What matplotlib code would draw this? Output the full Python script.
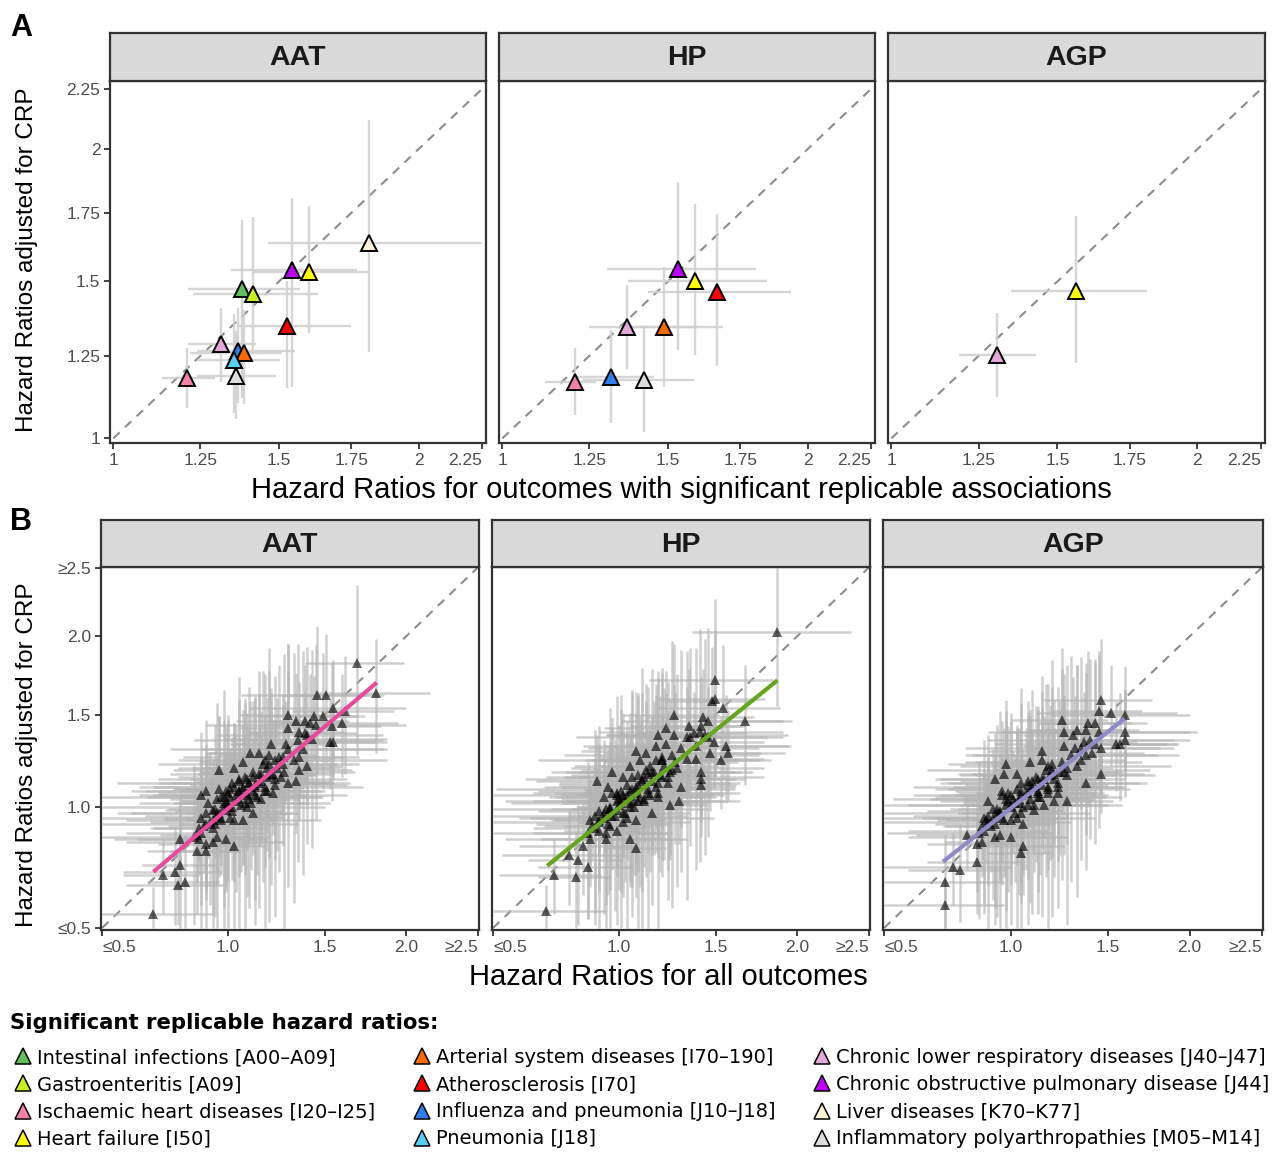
import matplotlib

matplotlib.use("Agg")
import matplotlib.pyplot as plt
from matplotlib.lines import Line2D
import numpy as np

plt.rcParams["font.family"] = ["Liberation Sans", "DejaVu Sans"]

W, H = 1272, 1153

proteins = ["AAT", "HP", "AGP"]

# legend entries for significant replicable associations
outcome_labels = [
    "Intestinal infections [A00–A09]",
    "Gastroenteritis [A09]",
    "Ischaemic heart diseases [I20–I25]",
    "Heart failure [I50]",
    "Arterial system diseases [I70–190]",
    "Atherosclerosis [I70]",
    "Influenza and pneumonia [J10–J18]",
    "Pneumonia [J18]",
    "Chronic lower respiratory diseases [J40–J47]",
    "Chronic obstructive pulmonary disease [J44]",
    "Liver diseases [K70–K77]",
    "Inflammatory polyarthropathies [M05–M14]",
]
outcome_colors = [
    "#5DC15B", "#C8F01E", "#F782A8", "#FFFF00", "#FF6A00", "#FF0000",
    "#2F7FEF", "#55D0F2", "#E2A8D6", "#BF00FF", "#FFF3D6", "#DCDCDC",
]

# panel A: significant replicable hazard ratios (outcome index, HR, CI, adjusted HR, CI)
aat_sig_outcome = [6, 0, 1, 2, 3, 4, 5, 7, 8, 9, 10, 11]
aat_sig_hr = [1.368, 1.379, 1.415, 1.211, 1.602, 1.387, 1.528, 1.354, 1.314, 1.543, 1.815, 1.360]
aat_sig_hr_lo = [1.239, 1.214, 1.227, 1.136, 1.411, 1.219, 1.363, 1.239, 1.214, 1.345, 1.465, 1.239]
aat_sig_hr_hi = [1.554, 1.571, 1.634, 1.295, 1.818, 1.509, 1.748, 1.503, 1.425, 1.770, 2.250, 1.490]
aat_sig_adj = [1.266, 1.474, 1.457, 1.181, 1.535, 1.258, 1.348, 1.238, 1.287, 1.541, 1.637, 1.186]
aat_sig_adj_lo = [1.103, 1.118, 1.258, 1.088, 1.323, 1.100, 1.148, 1.073, 1.168, 1.153, 1.263, 1.055]
aat_sig_adj_hi = [1.408, 1.724, 1.733, 1.274, 1.778, 1.400, 1.503, 1.389, 1.408, 1.809, 2.119, 1.330]

hp_sig_outcome = [2, 3, 4, 5, 6, 8, 9, 11]
hp_sig_hr = [1.206, 1.591, 1.487, 1.666, 1.316, 1.366, 1.535, 1.421]
hp_sig_hr_lo = [1.119, 1.369, 1.360, 1.433, 1.206, 1.249, 1.305, 1.231]
hp_sig_hr_hi = [1.271, 1.847, 1.689, 1.938, 1.455, 1.600, 1.807, 1.588]
hp_sig_adj = [1.168, 1.501, 1.343, 1.465, 1.182, 1.344, 1.545, 1.174]
hp_sig_adj_lo = [1.068, 1.252, 1.153, 1.218, 1.043, 1.207, 1.268, 1.019]
hp_sig_adj_hi = [1.274, 1.786, 1.551, 1.748, 1.333, 1.489, 1.868, 1.346]

agp_sig_outcome = [3, 8]
agp_sig_hr = [1.563, 1.306]
agp_sig_hr_lo = [1.350, 1.193]
agp_sig_hr_hi = [1.811, 1.429]
agp_sig_adj = [1.466, 1.254]
agp_sig_adj_lo = [1.226, 1.122]
agp_sig_adj_hi = [1.740, 1.391]

# panel B: all outcomes (HR, adjusted HR, CI half widths)
aat_all_hr = [
    1.69, 1.81, 1.46, 1.51, 1.55, 1.62, 1.60, 1.54, 1.55, 1.53, 1.30, 1.34, 1.39, 1.44, 1.49,
    1.36, 1.39, 1.42, 1.30, 1.21, 1.29, 1.105, 1.15, 1.18, 1.23, 1.27, 1.36, 1.40, 1.36, 1.30,
    1.34, 1.07, 1.03, 0.96, 0.90, 0.88, 0.91, 0.95, 0.97, 0.99, 1.02, 1.05, 1.09, 1.12, 1.16,
    1.19, 1.22, 1.26, 1.12, 1.09, 1.05, 1.02, 0.99, 0.96, 0.93, 0.89, 0.87, 0.86, 0.87, 0.90,
    0.95, 0.99, 1.03, 1.07, 1.12, 1.19, 1.22, 1.16, 0.79, 0.86, 0.90, 0.72, 0.77, 0.79, 0.78,
    0.81, 0.68, 0.93, 1.05, 1.10, 0.97, 1.01, 1.09, 1.00, 1.04, 1.07, 0.98, 1.13, 0.94, 1.01,
]
aat_all_adj = [
    1.82, 1.63, 1.62, 1.62, 1.54, 1.52, 1.45, 1.43, 1.34, 1.34, 1.50, 1.46, 1.46, 1.49, 1.49,
    1.40, 1.39, 1.45, 1.42, 1.33, 1.33, 1.28, 1.28, 1.24, 1.24, 1.26, 1.26, 1.21, 1.19, 1.12,
    1.13, 1.23, 1.20, 1.19, 1.08, 1.06, 1.02, 1.04, 1.05, 1.08, 1.12, 1.13, 1.14, 1.15, 1.13,
    1.15, 1.17, 1.15, 1.08, 1.07, 1.04, 1.00, 0.985, 0.97, 0.94, 0.91, 0.90, 0.87, 0.85, 0.83,
    0.86, 0.85, 0.82, 0.94, 0.97, 1.08, 1.07, 1.04, 0.85, 0.80, 0.80, 0.70, 0.71, 0.74, 0.66,
    0.67, 0.55, 0.985, 1.08, 1.04, 0.94, 0.95, 1.00, 1.02, 1.06, 1.10, 1.00, 1.11, 0.92, 1.09,
]
aat_all_hr_err = [
    0.30, 0.35, 0.40, 0.25, 0.45, 0.30, 0.35, 0.30, 0.25, 0.35, 0.25, 0.30, 0.20, 0.30, 0.20,
    0.25, 0.30, 0.20, 0.25, 0.20, 0.25, 0.20, 0.25, 0.20, 0.30, 0.20, 0.25, 0.20, 0.30, 0.25,
    0.20, 0.20, 0.25, 0.20, 0.25, 0.20, 0.15, 0.20, 0.15, 0.20, 0.15, 0.20, 0.15, 0.20, 0.25,
    0.15, 0.20, 0.15, 0.20, 0.15, 0.10, 0.15, 0.10, 0.15, 0.20, 0.15, 0.20, 0.15, 0.25, 0.20,
    0.15, 0.20, 0.15, 0.15, 0.20, 0.20, 0.15, 0.20, 0.25, 0.20, 0.15, 0.15, 0.20, 0.15, 0.20,
    0.15, 0.25, 0.20, 0.15, 0.20, 0.15, 0.20, 0.15, 0.15, 0.20, 0.15, 0.20, 0.15, 0.15, 0.20,
]
aat_all_adj_err = [
    0.55, 0.35, 0.45, 0.40, 0.30, 0.35, 0.30, 0.40, 0.20, 0.25, 0.45, 0.30, 0.35, 0.25, 0.40,
    0.30, 0.25, 0.30, 0.35, 0.30, 0.25, 0.30, 0.35, 0.25, 0.20, 0.30, 0.25, 0.20, 0.25, 0.20,
    0.25, 0.30, 0.25, 0.30, 0.25, 0.20, 0.25, 0.20, 0.15, 0.20, 0.25, 0.20, 0.30, 0.20, 0.25,
    0.20, 0.30, 0.20, 0.15, 0.20, 0.15, 0.20, 0.15, 0.20, 0.15, 0.20, 0.15, 0.20, 0.15, 0.20,
    0.15, 0.20, 0.15, 0.20, 0.15, 0.20, 0.15, 0.20, 0.20, 0.25, 0.20, 0.15, 0.20, 0.25, 0.15,
    0.20, 0.10, 0.20, 0.15, 0.20, 0.20, 0.15, 0.20, 0.15, 0.20, 0.20, 0.15, 0.20, 0.15, 0.20,
]
# dense core of the AAT cloud
aat_core_hr = [
    0.92, 0.95, 0.98, 1.01, 1.04, 1.07, 1.10, 1.13, 1.16, 1.19,
    0.90, 0.94, 0.97, 1.00, 1.03, 1.06, 1.09, 1.12, 1.15, 1.18, 1.21, 1.24,
    0.88, 0.93, 0.99, 1.05, 1.11, 1.17, 1.23,
    0.96, 1.02, 1.08, 1.14, 1.20, 1.27,
]
aat_core_adj = [
    0.93, 0.96, 1.02, 1.05, 1.03, 1.09, 1.12, 1.10, 1.17, 1.20,
    0.97, 0.99, 0.95, 1.07, 1.10, 1.01, 1.06, 1.18, 1.12, 1.08, 1.16, 1.20,
    0.88, 0.90, 1.03, 1.14, 1.02, 1.22, 1.11,
    1.09, 0.98, 1.15, 1.05, 1.27, 1.22,
]
aat_core_hr_err = [
    0.25, 0.30, 0.20, 0.35, 0.25, 0.30, 0.40, 0.25, 0.30, 0.35,
    0.30, 0.20, 0.25, 0.30, 0.35, 0.20, 0.30, 0.25, 0.40, 0.30, 0.25, 0.35,
    0.30, 0.25, 0.20, 0.35, 0.30, 0.25, 0.40,
    0.20, 0.25, 0.30, 0.35, 0.25, 0.30,
]
aat_core_adj_err = [
    0.35, 0.30, 0.45, 0.25, 0.40, 0.35, 0.30, 0.50, 0.35, 0.40,
    0.30, 0.45, 0.25, 0.40, 0.35, 0.30, 0.45, 0.40, 0.30, 0.35, 0.50, 0.40,
    0.30, 0.35, 0.40, 0.45, 0.30, 0.55, 0.35,
    0.40, 0.30, 0.45, 0.35, 0.50, 0.40,
]
# rare outcomes with wide intervals
aat_wide_hr = [
    0.85, 0.90, 0.95, 1.00, 1.05, 1.10, 1.15, 1.20, 1.25, 1.30, 1.35, 1.40, 1.45,
    0.88, 0.98, 1.08, 1.18, 1.28, 1.38,
    0.93, 1.03, 1.13, 1.23, 1.33, 1.43,
]
aat_wide_adj = [
    0.86, 0.92, 0.97, 1.00, 1.08, 1.12, 1.17, 1.22, 1.26, 1.30, 1.35, 1.38, 1.44,
    0.95, 1.05, 1.02, 1.10, 1.18, 1.30,
    0.84, 0.94, 1.06, 1.14, 1.24, 1.36,
]
aat_wide_hr_err = [
    0.35, 0.45, 0.40, 0.50, 0.45, 0.55, 0.40, 0.50, 0.45, 0.55, 0.50, 0.45, 0.55,
    0.40, 0.50, 0.45, 0.55, 0.40, 0.50,
    0.35, 0.45, 0.50, 0.40, 0.55, 0.45,
]
aat_wide_adj_err = [
    0.35, 0.55, 0.60, 0.50, 0.65, 0.55, 0.60, 0.70, 0.55, 0.65, 0.60, 0.55, 0.50,
    0.45, 0.60, 0.55, 0.65, 0.70, 0.60,
    0.35, 0.45, 0.55, 0.60, 0.65, 0.55,
]
aat_fit_hr = [0.683, 1.812]
aat_fit_adj = [0.711, 1.696]

hp_all_hr = [
    1.87, 1.495, 1.495, 1.48, 1.54, 1.67, 1.43, 1.27, 1.23, 1.19, 1.27, 1.35, 1.34, 1.38, 1.42,
    1.46, 1.49, 1.56, 1.57, 1.53, 1.47, 1.39, 1.42, 1.42, 1.42, 1.31, 1.30, 1.25, 1.19, 1.23,
    1.18, 1.08, 1.13, 1.10, 1.15, 1.21, 1.26, 1.21, 1.18, 1.12, 1.05, 1.02, 0.97, 0.90, 0.93,
    0.99, 1.05, 1.08, 1.12, 1.05, 1.02, 0.99, 0.96, 0.93, 0.91, 0.87, 0.88, 0.91, 0.96, 0.99,
    1.05, 1.08, 0.87, 0.84, 0.82, 0.78, 0.86, 0.72, 0.81, 0.69, 1.02, 1.08, 1.16, 0.95, 1.02,
    1.00, 1.04, 1.09, 0.97, 1.14, 0.94, 1.07,
]
hp_all_adj = [
    2.03, 1.714, 1.596, 1.58, 1.54, 1.46, 1.485, 1.50, 1.42, 1.38, 1.38, 1.43, 1.37, 1.39, 1.43,
    1.37, 1.34, 1.32, 1.28, 1.24, 1.28, 1.25, 1.18, 1.14, 1.11, 1.10, 1.03, 1.01, 1.05, 1.33,
    1.32, 1.29, 1.28, 1.24, 1.21, 1.24, 1.19, 1.15, 1.10, 1.15, 1.21, 1.15, 1.18, 1.13, 1.05,
    1.07, 1.08, 1.07, 1.04, 1.00, 0.97, 0.985, 1.00, 0.97, 0.94, 0.94, 0.91, 0.89, 0.91, 0.89,
    0.85, 0.81, 0.85, 0.82, 0.76, 0.78, 0.73, 0.70, 0.69, 0.56, 0.93, 0.94, 0.97, 1.10, 1.04,
    1.01, 1.06, 1.11, 0.96, 1.17, 0.99, 1.03,
]
hp_all_hr_err = [
    0.50, 0.35, 0.30, 0.25, 0.35, 0.30, 0.30, 0.25, 0.30, 0.25, 0.25, 0.30, 0.20, 0.30, 0.25,
    0.35, 0.30, 0.40, 0.35, 0.30, 0.30, 0.25, 0.30, 0.25, 0.20, 0.30, 0.25, 0.20, 0.25, 0.20,
    0.25, 0.25, 0.20, 0.25, 0.20, 0.25, 0.20, 0.25, 0.20, 0.20, 0.25, 0.20, 0.20, 0.25, 0.20,
    0.15, 0.20, 0.15, 0.20, 0.15, 0.15, 0.10, 0.15, 0.15, 0.20, 0.15, 0.20, 0.15, 0.20, 0.15,
    0.20, 0.15, 0.20, 0.25, 0.20, 0.25, 0.20, 0.20, 0.15, 0.25, 0.20, 0.15, 0.20, 0.20, 0.15,
    0.15, 0.20, 0.15, 0.15, 0.20, 0.15, 0.20,
]
hp_all_adj_err = [
    0.48, 0.55, 0.45, 0.35, 0.40, 0.35, 0.30, 0.45, 0.35, 0.35, 0.30, 0.35, 0.30, 0.25, 0.30,
    0.30, 0.25, 0.30, 0.25, 0.25, 0.30, 0.20, 0.25, 0.20, 0.25, 0.20, 0.20, 0.25, 0.20, 0.30,
    0.30, 0.35, 0.30, 0.25, 0.25, 0.25, 0.20, 0.25, 0.20, 0.25, 0.30, 0.25, 0.30, 0.25, 0.20,
    0.20, 0.15, 0.20, 0.20, 0.15, 0.20, 0.15, 0.15, 0.20, 0.15, 0.20, 0.15, 0.20, 0.15, 0.20,
    0.20, 0.20, 0.20, 0.20, 0.25, 0.20, 0.20, 0.15, 0.20, 0.10, 0.15, 0.20, 0.15, 0.20, 0.15,
    0.15, 0.20, 0.20, 0.15, 0.20, 0.20, 0.15,
]
hp_core_hr = [
    0.93, 0.96, 0.99, 1.02, 1.05, 1.08, 1.11, 1.14, 1.17, 1.20,
    0.91, 0.95, 0.98, 1.01, 1.04, 1.07, 1.10, 1.13, 1.16, 1.19, 1.22, 1.25,
    0.89, 0.94, 1.00, 1.06, 1.12, 1.18, 1.24,
    0.97, 1.03, 1.09, 1.15, 1.21, 1.28,
]
hp_core_adj = [
    0.95, 0.99, 1.03, 1.06, 1.02, 1.10, 1.13, 1.09, 1.18, 1.16,
    0.98, 0.92, 0.96, 1.08, 1.11, 1.00, 1.05, 1.19, 1.13, 1.07, 1.21, 1.18,
    0.90, 0.88, 1.04, 1.15, 1.03, 1.24, 1.12,
    1.07, 0.97, 1.16, 1.06, 1.26, 1.23,
]
hp_core_hr_err = [
    0.30, 0.25, 0.35, 0.20, 0.30, 0.40, 0.25, 0.30, 0.35, 0.30,
    0.25, 0.30, 0.20, 0.35, 0.30, 0.25, 0.40, 0.30, 0.25, 0.35, 0.30, 0.40,
    0.25, 0.30, 0.25, 0.30, 0.35, 0.30, 0.35,
    0.25, 0.20, 0.30, 0.40, 0.30, 0.35,
]
hp_core_adj_err = [
    0.40, 0.35, 0.30, 0.45, 0.35, 0.40, 0.50, 0.30, 0.40, 0.45,
    0.35, 0.30, 0.40, 0.45, 0.35, 0.30, 0.40, 0.50, 0.35, 0.30, 0.45, 0.40,
    0.35, 0.30, 0.40, 0.50, 0.30, 0.45, 0.40,
    0.35, 0.30, 0.45, 0.35, 0.50, 0.40,
]
hp_wide_hr = [
    0.86, 0.91, 0.96, 1.01, 1.06, 1.11, 1.16, 1.21, 1.26, 1.31, 1.36, 1.41, 1.46,
    0.89, 0.99, 1.09, 1.19, 1.29, 1.39,
    0.94, 1.04, 1.14, 1.24, 1.34, 1.44,
]
hp_wide_adj = [
    0.88, 0.93, 0.99, 1.02, 1.09, 1.14, 1.18, 1.24, 1.27, 1.31, 1.37, 1.40, 1.46,
    0.96, 1.06, 1.03, 1.12, 1.20, 1.32,
    0.85, 0.95, 1.07, 1.15, 1.25, 1.38,
]
hp_wide_hr_err = [
    0.40, 0.45, 0.50, 0.45, 0.55, 0.50, 0.45, 0.55, 0.50, 0.45, 0.55, 0.50, 0.45,
    0.45, 0.50, 0.55, 0.45, 0.50, 0.55,
    0.40, 0.45, 0.50, 0.55, 0.45, 0.50,
]
hp_wide_adj_err = [
    0.35, 0.50, 0.55, 0.60, 0.55, 0.65, 0.60, 0.55, 0.70, 0.60, 0.55, 0.65, 0.60,
    0.45, 0.55, 0.60, 0.65, 0.55, 0.60,
    0.35, 0.45, 0.60, 0.55, 0.65, 0.60,
]
hp_fit_hr = [0.694, 1.873]
hp_fit_adj = [0.736, 1.710]

agp_all_hr = [
    1.46, 1.45, 1.52, 1.60, 1.60, 1.60, 1.55, 1.57, 1.43, 1.39, 1.38, 1.33, 1.25, 1.26, 1.37,
    1.32, 1.26, 1.31, 1.46, 1.41, 1.35, 1.38, 1.46, 1.28, 1.21, 1.15, 1.15, 1.09, 0.98, 0.97,
    0.93, 1.03, 1.10, 1.18, 1.23, 1.28, 1.21, 1.16, 1.11, 1.05, 1.02, 0.99, 0.96, 0.90, 0.92,
    0.96, 1.00, 0.89, 0.87, 0.91, 0.81, 0.85, 0.87, 0.95, 1.00, 1.06, 1.06, 1.05, 0.85, 0.75,
    0.78, 0.72, 0.72, 1.08, 1.13, 1.05, 1.18, 1.00, 1.04, 0.94, 1.08, 1.13,
]
agp_all_adj = [
    1.586, 1.52, 1.51, 1.50, 1.40, 1.35, 1.33, 1.33, 1.45, 1.45, 1.41, 1.41, 1.47, 1.40, 1.34,
    1.31, 1.32, 1.38, 1.31, 1.28, 1.24, 1.12, 1.17, 1.20, 1.17, 1.29, 1.24, 1.23, 1.22, 1.17,
    1.14, 1.17, 1.13, 1.10, 1.07, 1.03, 1.03, 1.01, 0.985, 0.97, 1.02, 1.07, 1.08, 1.03, 0.99,
    0.95, 0.94, 0.94, 0.91, 0.91, 0.87, 0.83, 0.84, 0.87, 0.86, 0.92, 0.82, 0.79, 0.75, 0.73,
    0.72, 0.67, 0.58, 1.07, 1.07, 1.08, 1.21, 1.00, 1.04, 0.97, 1.11, 1.14,
]
agp_all_hr_err = [
    0.30, 0.25, 0.40, 0.40, 0.45, 0.40, 0.30, 0.35, 0.30, 0.25, 0.30, 0.25, 0.25, 0.30, 0.30,
    0.25, 0.20, 0.25, 0.35, 0.30, 0.25, 0.30, 0.25, 0.25, 0.20, 0.25, 0.20, 0.25, 0.25, 0.20,
    0.25, 0.20, 0.20, 0.25, 0.20, 0.25, 0.20, 0.20, 0.15, 0.15, 0.15, 0.15, 0.20, 0.20, 0.15,
    0.15, 0.15, 0.20, 0.15, 0.20, 0.20, 0.20, 0.15, 0.15, 0.20, 0.15, 0.20, 0.15, 0.20, 0.25,
    0.20, 0.25, 0.25, 0.15, 0.20, 0.15, 0.20, 0.15, 0.15, 0.15, 0.20, 0.15,
]
agp_all_adj_err = [
    0.40, 0.35, 0.30, 0.30, 0.25, 0.30, 0.25, 0.30, 0.40, 0.45, 0.35, 0.40, 0.45, 0.35, 0.30,
    0.30, 0.30, 0.35, 0.25, 0.25, 0.25, 0.25, 0.20, 0.25, 0.25, 0.35, 0.30, 0.30, 0.30, 0.25,
    0.25, 0.25, 0.20, 0.20, 0.20, 0.20, 0.20, 0.15, 0.20, 0.15, 0.15, 0.20, 0.20, 0.20, 0.15,
    0.20, 0.15, 0.20, 0.15, 0.20, 0.15, 0.20, 0.15, 0.20, 0.15, 0.20, 0.20, 0.20, 0.20, 0.15,
    0.20, 0.20, 0.10, 0.15, 0.15, 0.20, 0.25, 0.15, 0.15, 0.15, 0.20, 0.20,
]
agp_core_hr = [
    0.92, 0.95, 0.98, 1.01, 1.04, 1.07, 1.10, 1.13, 1.16, 1.19,
    0.90, 0.94, 0.97, 1.00, 1.03, 1.06, 1.09, 1.12, 1.15, 1.18, 1.21, 1.24,
    0.88, 0.93, 0.99, 1.05, 1.11, 1.17, 1.23,
    0.96, 1.02, 1.08, 1.14, 1.20, 1.26,
]
agp_core_adj = [
    0.95, 0.98, 1.01, 1.04, 1.02, 1.07, 1.10, 1.08, 1.14, 1.16,
    0.96, 0.99, 0.94, 1.06, 1.09, 1.00, 1.04, 1.15, 1.11, 1.07, 1.14, 1.18,
    0.89, 0.92, 1.03, 1.12, 1.01, 1.19, 1.10,
    1.06, 0.97, 1.13, 1.05, 1.22, 1.18,
]
agp_core_hr_err = [
    0.25, 0.30, 0.20, 0.35, 0.25, 0.30, 0.35, 0.25, 0.30, 0.35,
    0.30, 0.20, 0.25, 0.30, 0.35, 0.20, 0.30, 0.25, 0.35, 0.30, 0.25, 0.35,
    0.30, 0.25, 0.20, 0.35, 0.30, 0.25, 0.35,
    0.20, 0.25, 0.30, 0.35, 0.25, 0.30,
]
agp_core_adj_err = [
    0.35, 0.30, 0.45, 0.25, 0.40, 0.35, 0.30, 0.45, 0.35, 0.40,
    0.30, 0.45, 0.25, 0.40, 0.35, 0.30, 0.45, 0.40, 0.30, 0.35, 0.45, 0.40,
    0.30, 0.35, 0.40, 0.45, 0.30, 0.50, 0.35,
    0.40, 0.30, 0.45, 0.35, 0.45, 0.40,
]
agp_wide_hr = [
    0.86, 0.90, 0.95, 1.00, 1.05, 1.10, 1.15, 1.20, 1.25, 1.30, 1.35, 1.40, 1.45,
    0.88, 0.98, 1.08, 1.18, 1.28, 1.38,
    0.93, 1.03, 1.13, 1.23, 1.33, 1.43,
]
agp_wide_adj = [
    0.88, 0.93, 0.97, 1.01, 1.06, 1.10, 1.14, 1.19, 1.23, 1.27, 1.31, 1.35, 1.40,
    0.95, 1.04, 1.01, 1.09, 1.16, 1.27,
    0.86, 0.95, 1.05, 1.12, 1.21, 1.33,
]
agp_wide_hr_err = [
    0.35, 0.40, 0.45, 0.50, 0.45, 0.50, 0.45, 0.55, 0.45, 0.50, 0.55, 0.50, 0.55,
    0.40, 0.45, 0.50, 0.45, 0.50, 0.55,
    0.35, 0.40, 0.45, 0.50, 0.55, 0.50,
]
agp_wide_adj_err = [
    0.35, 0.45, 0.55, 0.50, 0.60, 0.55, 0.60, 0.65, 0.55, 0.60, 0.55, 0.50, 0.50,
    0.40, 0.55, 0.50, 0.60, 0.65, 0.55,
    0.35, 0.45, 0.50, 0.55, 0.60, 0.50,
]
agp_fit_hr = [0.711, 1.597]
agp_fit_adj = [0.753, 1.476]

fit_colors = ["#E84B9B", "#66A61E", "#8E8BC6"]

ticks_a = [1, 1.25, 1.5, 1.75, 2, 2.25]
tick_labels_a = ["1", "1.25", "1.5", "1.75", "2", "2.25"]
ticks_b = [0.5, 1.0, 1.5, 2.0, 2.5]
tick_labels_b = ["≤0.5", "1.0", "1.5", "2.0", "≥2.5"]

FRAME = "#333333"


def rect(left, top, right, bottom):
    return [left / W, 1 - bottom / H, (right - left) / W, (bottom - top) / H]


def sqrt_axes(ax, xlim, ylim, ticks, labels, show_y, edge_align):
    ax.set_xscale("function", functions=(np.sqrt, np.square))
    ax.set_yscale("function", functions=(np.sqrt, np.square))
    ax.set_xlim(*xlim)
    ax.set_ylim(*ylim)
    ax.set_xticks(ticks)
    ax.set_xticklabels(labels)
    ax.set_yticks(ticks)
    ax.set_yticklabels(labels if show_y else [])
    ax.tick_params(length=4, width=1.3, color=FRAME, labelcolor="#4D4D4D",
                   labelsize=12.5, pad=3, left=show_y)
    xl = ax.get_xticklabels()
    xl[-1].set_ha("right")
    if edge_align:
        xl[0].set_ha("left")
    for s in ax.spines.values():
        s.set_color(FRAME)
        s.set_linewidth(1.6)
    # identity line
    ax.plot([ticks[0], ticks[-1]], [ticks[0], ticks[-1]], color="#8C8C8C",
            lw=1.5, ls=(0, (4.2, 3.5)), zorder=1)


def add_strip(fig, box, label):
    sax = fig.add_axes(box)
    sax.set_facecolor("#D9D9D9")
    sax.set_xticks([])
    sax.set_yticks([])
    for s in sax.spines.values():
        s.set_color(FRAME)
        s.set_linewidth(1.6)
    sax.text(0.5, 0.47, label, ha="center", va="center", fontsize=20.5,
             fontweight="bold", color="#1A1A1A", transform=sax.transAxes)


fig = plt.figure(figsize=(W / 100, H / 100), dpi=100)

sig_data = [
    (aat_sig_outcome, aat_sig_hr, aat_sig_hr_lo, aat_sig_hr_hi, aat_sig_adj, aat_sig_adj_lo, aat_sig_adj_hi),
    (hp_sig_outcome, hp_sig_hr, hp_sig_hr_lo, hp_sig_hr_hi, hp_sig_adj, hp_sig_adj_lo, hp_sig_adj_hi),
    (agp_sig_outcome, agp_sig_hr, agp_sig_hr_lo, agp_sig_hr_hi, agp_sig_adj, agp_sig_adj_lo, agp_sig_adj_hi),
]
all_data = [
    (aat_wide_hr + aat_all_hr + aat_core_hr, aat_wide_adj + aat_all_adj + aat_core_adj,
     aat_wide_hr_err + aat_all_hr_err + aat_core_hr_err,
     aat_wide_adj_err + aat_all_adj_err + aat_core_adj_err, aat_fit_hr, aat_fit_adj),
    (hp_wide_hr + hp_all_hr + hp_core_hr, hp_wide_adj + hp_all_adj + hp_core_adj,
     hp_wide_hr_err + hp_all_hr_err + hp_core_hr_err,
     hp_wide_adj_err + hp_all_adj_err + hp_core_adj_err, hp_fit_hr, hp_fit_adj),
    (agp_wide_hr + agp_all_hr + agp_core_hr, agp_wide_adj + agp_all_adj + agp_core_adj,
     agp_wide_hr_err + agp_all_hr_err + agp_core_hr_err,
     agp_wide_adj_err + agp_all_adj_err + agp_core_adj_err, agp_fit_hr, agp_fit_adj),
]

a_cols = [(110, 486), (499, 875), (888, 1265)]
b_cols = [(101, 479), (492, 870), (883, 1263)]

# ---- panel A
for i, (name, (left, right)) in enumerate(zip(proteins, a_cols)):
    ax = fig.add_axes(rect(left, 81, right, 443))
    add_strip(fig, rect(left, 33, right, 81), name)
    sqrt_axes(ax, (0.991, 2.2675), (0.9867, 2.286), ticks_a, tick_labels_a, i == 0, False)
    idx, hr, hr_lo, hr_hi, adj, adj_lo, adj_hi = (np.asarray(v, dtype=float) for v in sig_data[i])
    ax.errorbar(hr, adj, xerr=[hr - hr_lo, hr_hi - hr], yerr=[adj - adj_lo, adj_hi - adj],
                fmt="none", ecolor="#CFCFCF", elinewidth=1.7, alpha=0.85, capsize=0, zorder=2)
    for k in range(len(hr)):
        ax.plot(hr[k], adj[k], marker="^", ms=12, mfc=outcome_colors[int(idx[k])],
                mec="black", mew=1.4, ls="none", zorder=3)

# ---- panel B
for i, (name, (left, right)) in enumerate(zip(proteins, b_cols)):
    ax = fig.add_axes(rect(left, 567, right, 930))
    add_strip(fig, rect(left, 520, right, 567), name)
    sqrt_axes(ax, (0.4964, 2.5095), (0.493, 2.505), ticks_b, tick_labels_b, i == 0, True)
    hr, adj, hr_err, adj_err, fit_x, fit_y = (np.asarray(v, dtype=float) for v in all_data[i])
    xlo = np.clip(hr - hr_err, 0.5, None)
    ylo = np.clip(adj - adj_err, 0.5, None)
    xhi = np.clip(hr + hr_err, None, 2.5)
    yhi = np.clip(adj + adj_err, None, 2.5)
    ax.errorbar(hr, adj, xerr=[hr - xlo, xhi - hr], yerr=[adj - ylo, yhi - adj],
                fmt="none", ecolor="#B4B4B4", elinewidth=1.8, alpha=0.62, capsize=0, zorder=2)
    ax.plot(hr, adj, marker="^", ms=7.5, color="black", alpha=0.62, ls="none",
            mew=0, zorder=3)
    ax.plot(fit_x, fit_y, color=fit_colors[i], lw=3, solid_capstyle="butt", zorder=4)

# ---- titles and labels
fig.text(10 / W, 1 - 28 / H, "A", fontsize=22, fontweight="bold", va="center", ha="left")
fig.text(10 / W, 1 - 522 / H, "B", fontsize=22, fontweight="bold", va="center", ha="left")
fig.text(27 / W, 1 - 260 / H, "Hazard Ratios adjusted for CRP", rotation=90,
         fontsize=17.5, ha="center", va="center")
fig.text(27 / W, 1 - 755 / H, "Hazard Ratios adjusted for CRP", rotation=90,
         fontsize=17.5, ha="center", va="center")
fig.text(681 / W, 1 - 490 / H, "Hazard Ratios for outcomes with significant replicable associations",
         fontsize=21, ha="center", va="center")
fig.text(668 / W, 1 - 977 / H, "Hazard Ratios for all outcomes",
         fontsize=21, ha="center", va="center")

# ---- legend
fig.text(10 / W, 1 - 1023 / H, "Significant replicable hazard ratios:", family="DejaVu Sans",
         fontsize=15.3, fontweight="bold", ha="left", va="center")
handles = [
    Line2D([], [], marker="^", ls="none", ms=11, mfc=c, mec="black", mew=1.1)
    for c in outcome_colors
]
leg = fig.legend(
    handles, outcome_labels, loc="upper left", bbox_to_anchor=(10 / W, 1 - 1048 / H),
    ncol=3, frameon=False, borderpad=0, borderaxespad=0,
    handlelength=1.3, handletextpad=0.08, columnspacing=1.75, labelspacing=0.42,
    prop={"family": "DejaVu Sans", "size": 14},
)

fig.savefig("out.png", dpi=100)
